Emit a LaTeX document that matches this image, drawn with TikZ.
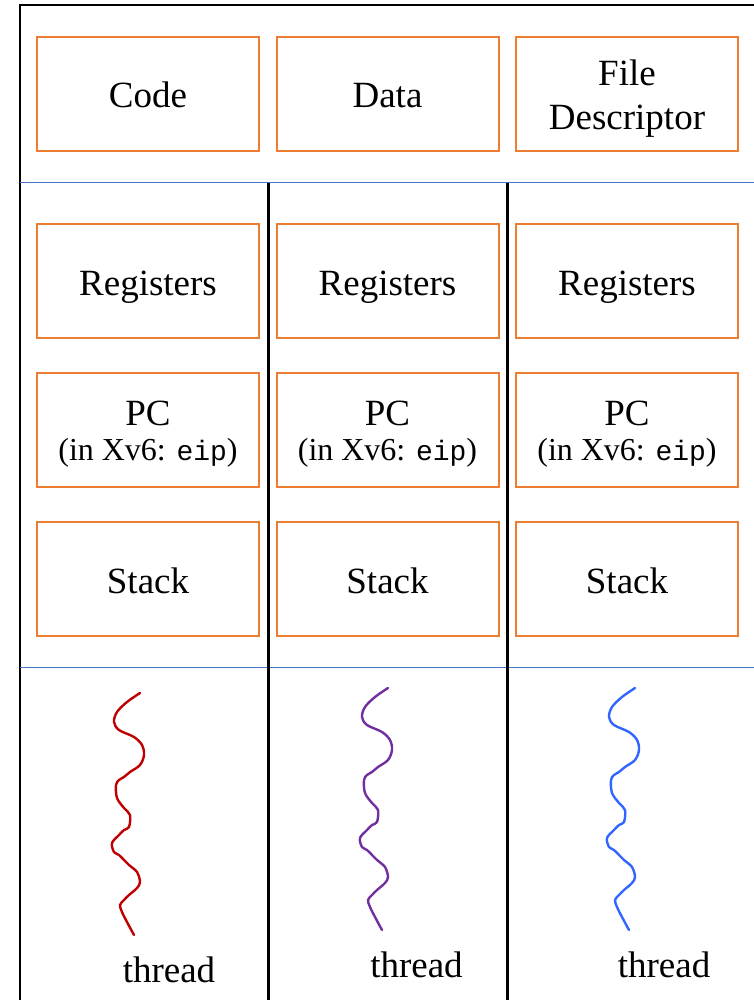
\documentclass[tikz,border=0pt]{standalone}
\usepackage{fontspec}
\setmainfont{Liberation Serif}
\setmonofont{Liberation Mono}
\definecolor{boxorange}{RGB}{237,125,49}
\definecolor{rulebl}{RGB}{68,114,196}
\definecolor{thrred}{RGB}{192,0,0}
\definecolor{thrpurple}{RGB}{112,48,160}
\definecolor{thrblue}{RGB}{51,102,255}
\begin{document}
\begin{tikzpicture}[x=1pt,y=-1pt,
  part/.style={draw=boxorange, line width=2pt, minimum width=222pt,
    minimum height=114pt, inner sep=0pt, align=center,
    text height=28pt, text depth=0pt,
    font=\fontsize{37}{44}\selectfont},
  twopart/.style={part, text height=72pt},
  pcpart/.style={part, text height=60pt, font=\fontsize{37}{35}\selectfont},
  frame/.style={line width=2.5pt, black},
  divider/.style={line width=1pt, rulebl},
  colsep/.style={line width=3pt, black},
  threadline/.style={line width=2.4pt, line cap=round, line join=round},
  threadlabel/.style={anchor=base, font=\fontsize{37}{44}\selectfont}]
\clip (0,0) rectangle (754,1000);

% outer frame (continues past the right and bottom edges)
\draw[frame] (20,1010) -- (20,5) -- (770,5);
% horizontal dividers between the shared part, the per-thread part and the threads
\draw[divider] (20,183) -- (770,183);
\draw[divider] (20,667) -- (770,667);
% column separators of the per-thread state
\draw[colsep] (268,183) -- (268,1010);
\draw[colsep] (507,183) -- (507,1010);

% shared resources
\node[part] (code) at (148,94) {Code};
\node[part] (data) at (387.5,94) {Data};
\node[twopart] (fd) at (627,94) {File\\Descriptor};

% per-thread state
\foreach \c/\x in {1/148, 2/387.5, 3/627}{
  \node[part] (reg\c) at (\x,281) {Registers};
  \node[pcpart] (pc\c) at (\x,430) {PC\\\fontsize{32}{35}\selectfont(in Xv6: {\fontsize{28}{35}\selectfont\ttfamily eip})};
  \node[part] (stack\c) at (\x,579) {Stack};
}

% threads
\def\wiggle{plot[smooth, tension=0.55] coordinates {
  (388,688) (375,697) (365,707) (362,717) (367,725) (382,732) (390,740)
  (392,750) (388,760) (378,767) (372,772) (367,775) (364,780) (365,793)
  (372,803) (378,810) (377,822) (372,825) (367,830) (360,838) (362,847)
  (367,850) (377,860) (385,867) (388,877) (385,883) (377,890) (372,895)
  (368,900) (370,907) (375,917) (382,930)}}
\draw[threadline, thrred, xshift=-248pt, yshift=-5pt] \wiggle;
\draw[threadline, thrpurple] \wiggle;
\draw[threadline, thrblue, xshift=247pt] \wiggle;

\node[threadlabel] (t1) at (169,982) {thread};
\node[threadlabel] (t2) at (416.5,977) {thread};
\node[threadlabel] (t3) at (664,977) {thread};
\end{tikzpicture}
\end{document}
